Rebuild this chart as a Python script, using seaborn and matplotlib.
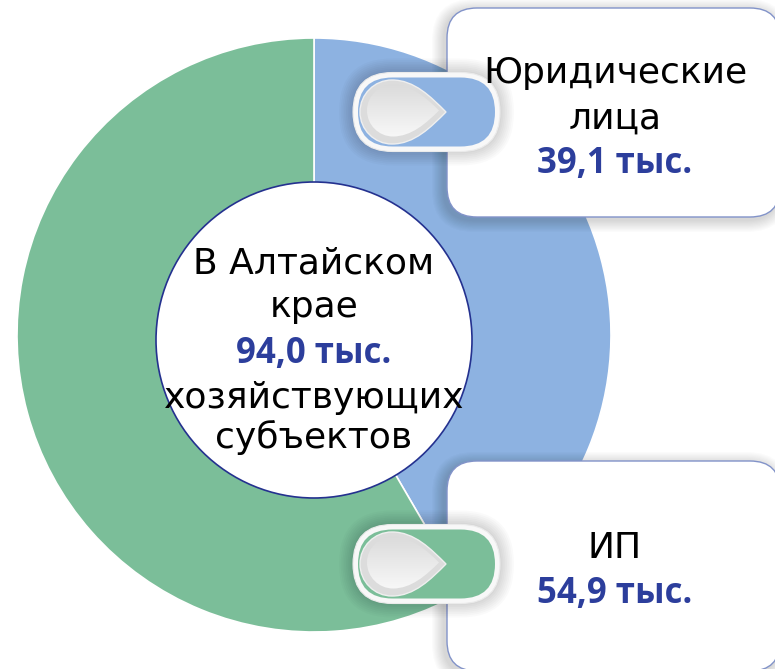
import numpy as np
import matplotlib
matplotlib.use("Agg")
import matplotlib.pyplot as plt
from matplotlib.patches import FancyBboxPatch, Circle, PathPatch
from matplotlib.path import Path
from matplotlib.colors import LinearSegmentedColormap
import seaborn as sns

# data
categories = ["Юридические\nлица", "ИП"]
values = [39.1, 54.9]
total_label = ["В Алтайском", "крае", "хозяйствующих", "субъектов"]
colors = ["#8DB2E1", "#7BBE99"]
num_color = "#2C3E9C"

sns.set_theme(style="white")
plt.rcParams['font.family'] = ['DejaVu Sans']
plt.rcParams['text.color'] = 'black'

W, H = 775, 669
fig = plt.figure(figsize=(W / 100, H / 100), dpi=100)
ax = fig.add_axes([0, 0, 1, 1])
BOLD = ["Open Sans", "DejaVu Sans"]
grad = LinearSegmentedColormap.from_list("knob", ["#F9F9F9", "#DADADA"])


def fy(y):
    # image y (top down) -> axes y
    return H - y


def fmt(v):
    return f"{v:.1f}".replace(".", ",") + " тыс."


# donut
ax.pie(values, colors=colors, startangle=90, counterclock=False,
       center=(314, fy(335)), radius=297,
       wedgeprops=dict(edgecolor="white", linewidth=1.2))
ax.add_patch(Circle((314, fy(340)), 158, facecolor="white",
                    edgecolor="#24318F", linewidth=1.2, zorder=3))


def shadow(x0, y0, w, h, r, z, n=10, spread=12, alpha=0.014, dx=-3, dy=3):
    for i in range(n):
        d = spread * (i + 1) / n
        ax.add_patch(FancyBboxPatch((x0 - d + dx, fy(y0 + h) - d - dy), w + 2 * d, h + 2 * d,
                                    boxstyle=f"round,pad=0,rounding_size={r + d}",
                                    facecolor="black", edgecolor="none",
                                    alpha=alpha, zorder=z))


def drop_path(cx, cy, r, d):
    k = 0.5522847
    tx = cx + d
    s = 0.28 * d
    verts = [(tx, cy),
             (tx - s, cy + s), (cx + 0.7 * r, cy + r), (cx, cy + r),
             (cx - k * r, cy + r), (cx - r, cy + k * r), (cx - r, cy),
             (cx - r, cy - k * r), (cx - k * r, cy - r), (cx, cy - r),
             (cx + 0.7 * r, cy - r), (tx - s, cy - s), (tx, cy),
             (tx, cy)]
    codes = [Path.MOVETO] + [Path.CURVE4] * 12 + [Path.CLOSEPOLY]
    return Path(verts, codes)


def callout(y0, h, color, pill_cy):
    bx, bw = 447, 333
    shadow(bx, y0, bw, h, 30, 4)
    ax.add_patch(FancyBboxPatch((bx, fy(y0 + h)), bw, h,
                                boxstyle="round,pad=0,rounding_size=30",
                                facecolor="white", edgecolor="#8293C9",
                                linewidth=1.0, zorder=5))
    # pill
    px0, px1, ph = 353, 500, 79
    shadow(px0, pill_cy - ph / 2, px1 - px0, ph, ph / 2, 6, n=8, spread=14, alpha=0.018, dx=0, dy=0)
    ax.add_patch(FancyBboxPatch((px0, fy(pill_cy + ph / 2)), px1 - px0, ph,
                                boxstyle=f"round,pad=0,rounding_size={ph / 2}",
                                facecolor="#F8F8F8", edgecolor="#EBEBEB",
                                linewidth=0.8, zorder=7))
    ih = 69
    ax.add_patch(FancyBboxPatch((px0 + 5, fy(pill_cy + ih / 2)), px1 - px0 - 10, ih,
                                boxstyle=f"round,pad=0,rounding_size={ih / 2}",
                                facecolor=color, edgecolor="none", zorder=8))
    # drop knob
    cy = fy(pill_cy)
    ax.add_patch(PathPatch(drop_path(392, cy, 32, 54), facecolor="#DCDCDC",
                           edgecolor="#EFEFEF", linewidth=1.0, zorder=10))
    inner = PathPatch(drop_path(393, cy + 1.5, 26, 46), facecolor="none",
                      edgecolor="none", zorder=11)
    ax.add_patch(inner)
    img = ax.imshow(np.linspace(0, 1, 64).reshape(-1, 1), cmap=grad, aspect="auto",
                    extent=(360, 445, cy - 28, cy + 30), origin="lower", zorder=11)
    img.set_clip_path(inner)


callout(8, 209, colors[0], 112)
callout(461, 210, colors[1], 564)

# texts in boxes
cx_box = 615
ax.text(cx_box, fy(83), "Юридические", ha="center", va="baseline",
        fontsize=26, color="black", zorder=20)
ax.text(cx_box, fy(129), "лица", ha="center", va="baseline",
        fontsize=26, color="black", zorder=20)
ax.text(cx_box, fy(173), fmt(values[0]), ha="center", va="baseline",
        fontsize=25, fontweight="bold", family=BOLD, color=num_color, zorder=20)
ax.text(cx_box, fy(558), categories[1], ha="center", va="baseline",
        fontsize=26, color="black", zorder=20)
ax.text(cx_box, fy(603), fmt(values[1]), ha="center", va="baseline",
        fontsize=25, fontweight="bold", family=BOLD, color=num_color, zorder=20)

# center text
ax.text(314, fy(274), total_label[0], ha="center", va="baseline", fontsize=26, color="black", zorder=20)
ax.text(314, fy(317), total_label[1], ha="center", va="baseline", fontsize=26, color="black", zorder=20)
ax.text(314, fy(363), fmt(sum(values)), ha="center", va="baseline", fontsize=25,
        fontweight="bold", family=BOLD, color=num_color, zorder=20)
ax.text(314, fy(408), total_label[2], ha="center", va="baseline", fontsize=26, color="black", zorder=20)
ax.text(314, fy(448), total_label[3], ha="center", va="baseline", fontsize=26, color="black", zorder=20)

ax.set_xlim(0, W)
ax.set_ylim(0, H)
ax.set_aspect("equal")
ax.axis("off")
fig.savefig("out.png", dpi=100)
